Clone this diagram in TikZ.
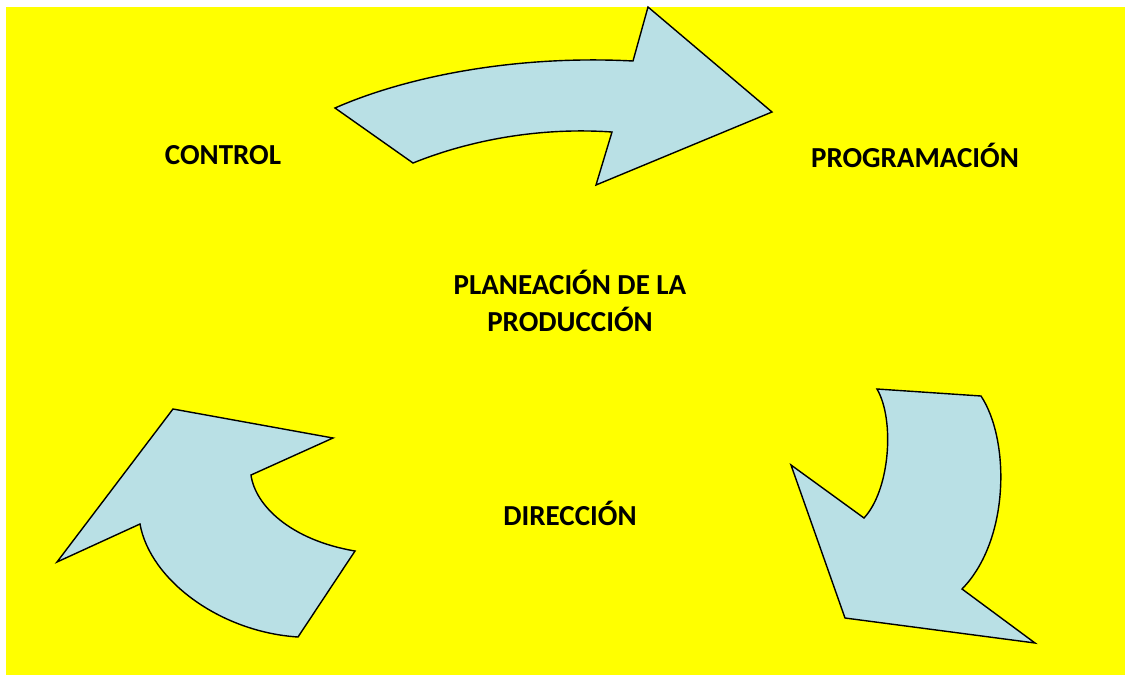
\documentclass[tikz,border=0pt]{standalone}
\usepackage{fontspec}
\setmainfont{Carlito}
\definecolor{bg}{RGB}{255,255,0}
\definecolor{arrowfill}{RGB}{185,224,229}
\begin{document}
\begin{tikzpicture}[x=1pt,y=-1pt,
  arrowshape/.style={draw=black,fill=arrowfill,line width=1.4pt,line join=miter},
  label/.style={font=\fontsize{29}{37}\selectfont\bfseries,align=center,inner sep=0pt}]
\useasboundingbox (0,0) rectangle (1125,675);
\fill[bg] (6,7) rectangle (1125,675);
% top arrow
\draw[arrowshape] (335,108) .. controls (410,75) and (520,55) .. (633,61)
  -- (648,7) -- (772,112) -- (596,185) -- (612,132)
  .. controls (540,127) and (470,140) .. (413,163) -- cycle;
% right arrow
\draw[arrowshape] (877,389) -- (981,396)
  .. controls (1010,440) and (1010,540) .. (962,589)
  -- (1035,643) -- (845,618) -- (791,465) -- (864,518)
  .. controls (890,490) and (895,420) .. (877,389) -- cycle;
% left arrow
\draw[arrowshape] (173,409) -- (333,438) -- (251,475)
  .. controls (255,505) and (290,540) .. (355,551)
  -- (298,637)
  .. controls (220,632) and (150,580) .. (140,524)
  -- (57,562) -- cycle;
\node[label] (control) at (223,155.5) {CONTROL};
\node[label] (prog) at (915,155.5) {PROGRAMACIÓN};
\node[label] (plan) at (570,300.5) {PLANEACIÓN DE LA\\PRODUCCIÓN};
\node[label] (dir) at (570,513.5) {DIRECCIÓN};
\end{tikzpicture}
\end{document}
